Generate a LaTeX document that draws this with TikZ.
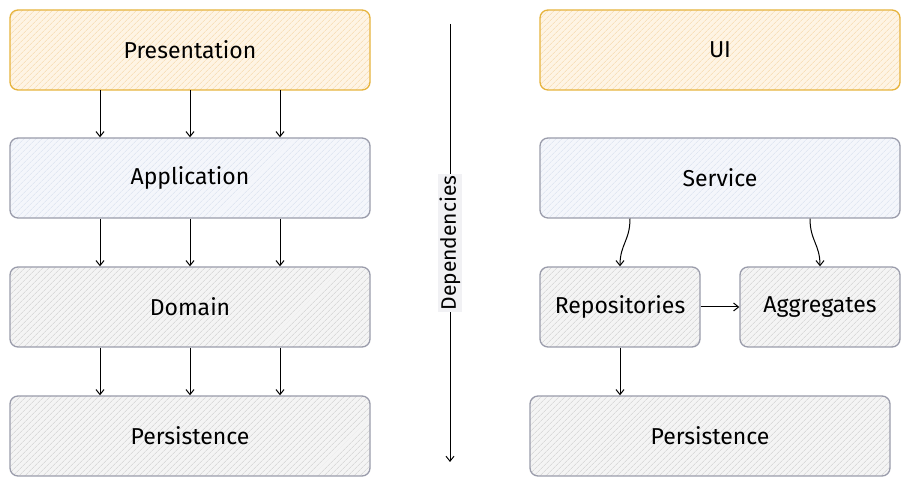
\documentclass[tikz,border=0pt]{standalone}
\usepackage{fontspec}
\setmainfont{Fira Sans}
\usetikzlibrary{arrows.meta,patterns.meta}
\definecolor{warmline}{HTML}{E6B33C}
\definecolor{warmfill}{HTML}{FEF4E4}
\definecolor{warmhatch}{HTML}{F6D6A6}
\definecolor{coolline}{HTML}{9A9CAB}
\definecolor{coolfill}{HTML}{F4F6FB}
\definecolor{coolhatch}{HTML}{D8DFEE}
\definecolor{greyfill}{HTML}{F4F4F4}
\definecolor{greyhatch}{HTML}{CDCDCD}
\definecolor{labelfill}{HTML}{F1F1F4}
\begin{document}
\begin{tikzpicture}[x=1pt, y=1pt,
    layer/.style={draw=coolline, rounded corners=8pt, line width=1.3pt,
        minimum width=360pt, minimum height=80pt, font=\fontsize{23}{27}\selectfont},
    small/.style={layer, minimum width=160pt},
    warm/.style={draw=warmline, preaction={fill=warmfill},
        pattern={Lines[angle=45, distance=4pt, line width=0.6pt]}, pattern color=warmhatch},
    cool/.style={preaction={fill=coolfill},
        pattern={Lines[angle=45, distance=4pt, line width=0.6pt]}, pattern color=coolhatch},
    grey/.style={preaction={fill=greyfill},
        pattern={Lines[angle=45, distance=4pt, line width=0.6pt]}, pattern color=greyhatch},
    dep/.style={-{Straight Barb[length=5pt, width=8pt]}, line width=1pt},
    deplabel/.style={fill=labelfill, rotate=90, inner sep=2pt, font=\fontsize{21}{25}\selectfont}]
    \useasboundingbox (0, 0) rectangle (911, 486);

    % left column: layered architecture
    \node[layer, warm] (pres) at (190, 436) {Presentation};
    \node[layer, cool] (app) at (190, 308) {Application};
    \node[layer, grey] (dom) at (190, 179) {Domain};
    \node[layer, grey] (pers) at (190, 50) {Persistence};

    \foreach \a/\b in {pres/app, app/dom, dom/pers} {
        \foreach \dx in {-90, 0, 90} {
            \draw[dep] ([xshift=\dx]\a.south) -- ([xshift=\dx]\b.north);
        }
    }

    % dependency direction
    \coordinate (depTop) at (450, 462);
    \coordinate (depEnd) at (450, 24);
    \draw[dep] (depTop) -- node[deplabel] (deplbl) {Dependencies} (depEnd);

    % right column
    \node[layer, warm] (ui) at (720, 436) {UI};
    \node[layer, cool] (srv) at (720, 308) {Service};
    \node[small, grey] (repo) at (620, 179) {Repositories};
    \node[small, grey] (aggr) at (820, 179) {Aggregates};
    \node[layer, grey] (pers2) at (710, 50) {Persistence};

    \draw[dep] ([xshift=-90]srv.south) .. controls +(0, -22) and +(0, 22) .. (repo.north);
    \draw[dep] ([xshift=90]srv.south) .. controls +(0, -22) and +(0, 22) .. (aggr.north);
    \draw[dep] (repo.east) -- (aggr.west);
    \draw[dep] (repo.south) -- (repo.south |- pers2.north);
\end{tikzpicture}
\end{document}
